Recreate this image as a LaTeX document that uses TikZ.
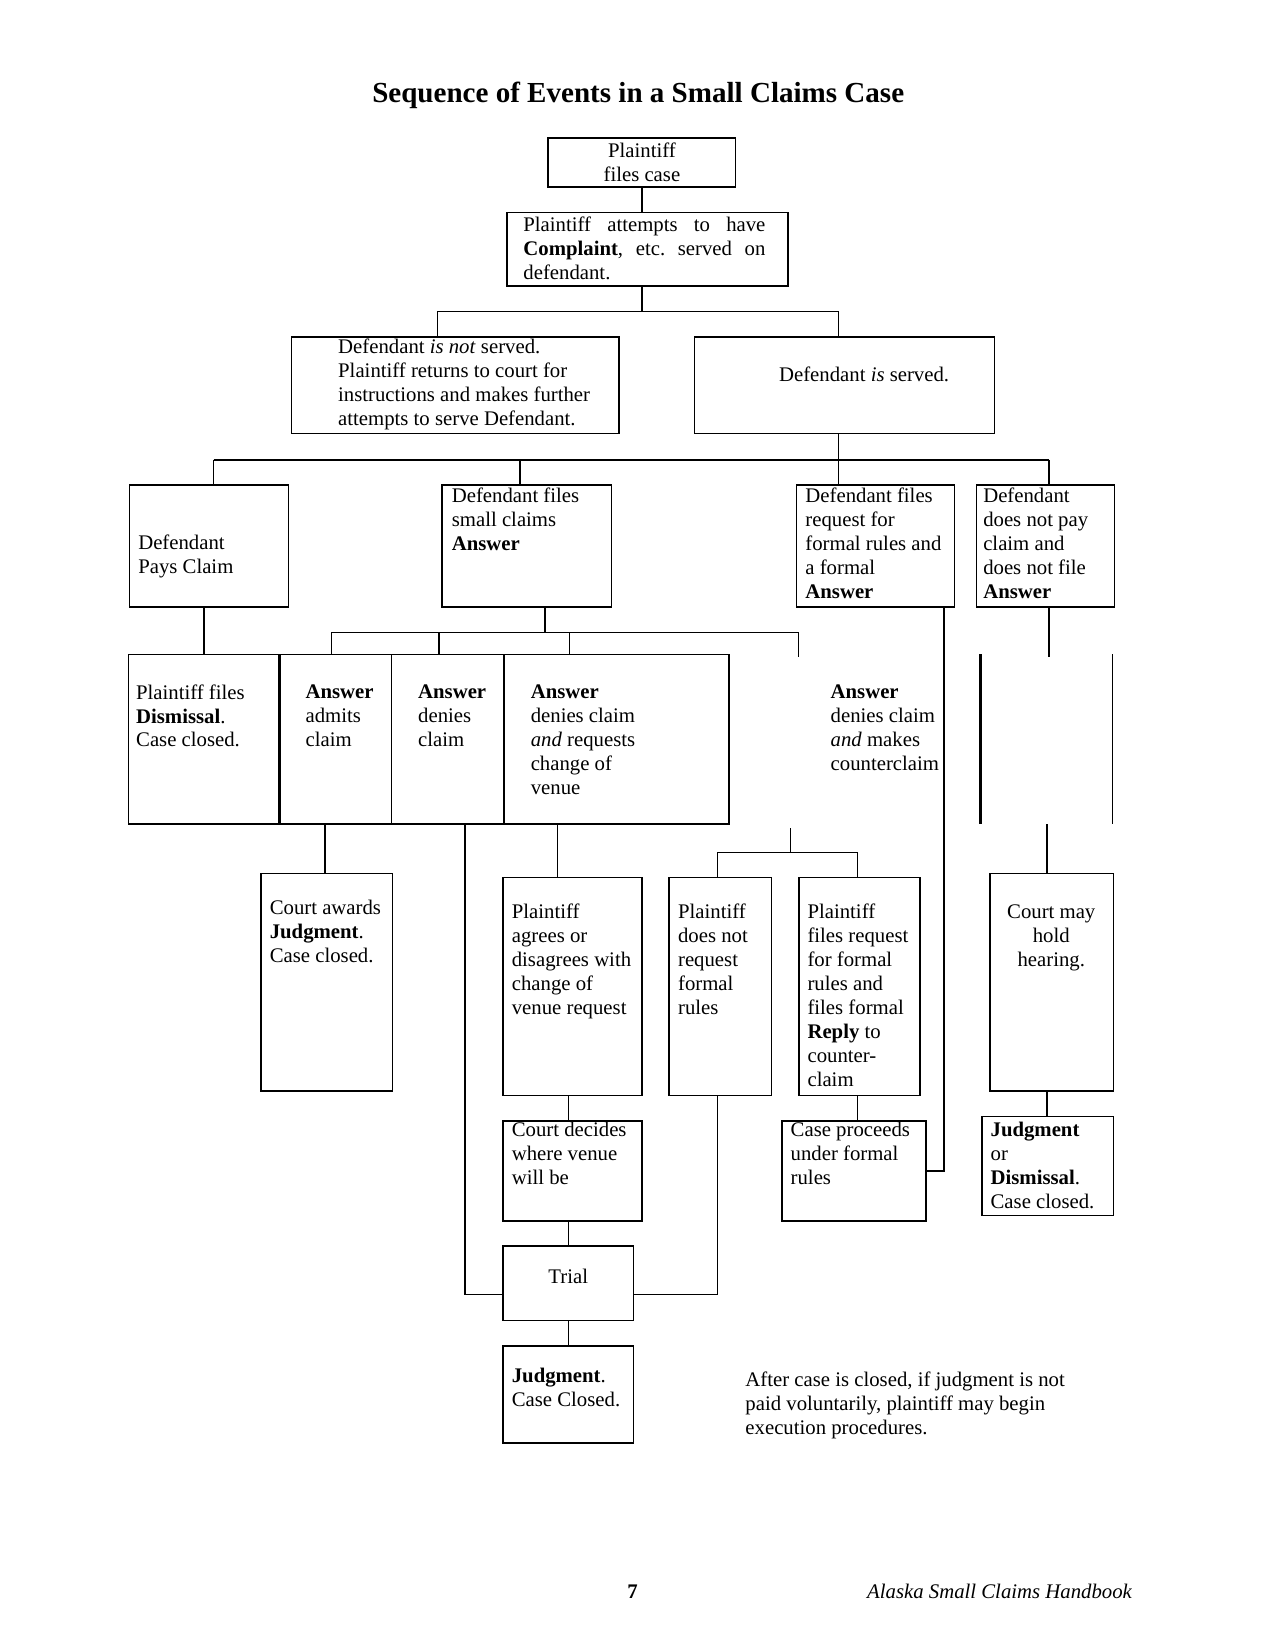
\documentclass[tikz,border=0pt]{standalone}
\usepackage{fontspec}
\setmainfont{Liberation Serif}
\usetikzlibrary{fit}
\frenchspacing
\newcommand\bodyfont{\fontsize{10}{11.55}\selectfont}
\newcommand\bxx[5]{\node[box, fit={(#2,#3) (#4,#5)}] (#1) {};}
\begin{document}
\begin{tikzpicture}[x=0.507pt,y=-0.507pt,
  box/.style={draw, line width=0.8pt, inner sep=0pt},
  hid/.style={inner sep=0pt},
  txt/.style={inner sep=0pt, align=left, anchor=north west, font=\bodyfont},
  ctxt/.style={inner sep=0pt, align=center, anchor=north, font=\bodyfont},
  conn/.style={line width=0.7pt}]
\useasboundingbox (0,0) rectangle (1212,1568);
% title
\node[inner sep=0pt, anchor=base, font=\fontsize{14}{16}\selectfont\bfseries] (title) at (606.5,97) {Sequence of Events in a Small Claims Case};
% boxes
\bxx{b1}{521}{131}{699}{178}
\bxx{b2}{482}{202}{749}{272}
\bxx{b3}{277}{320}{588}{412}
\bxx{b4}{660}{320}{945}{412}
\bxx{c1}{123}{461}{274}{577}
\bxx{c2}{420}{461}{581}{577}
\bxx{c3}{757}{461}{907}{577}
\bxx{c4}{928}{461}{1059}{577}
\bxx{d1}{122}{622}{265}{783}
\bxx{d2}{266}{622}{372}{783}
\bxx{d3}{372}{622}{479}{783}
\bxx{d4}{479}{622}{693}{783}
\node[hid, fit={(932,622) (1057,783)}] (h) {};
\draw[line width=1.3pt] (h.north west) -- (h.south west);
\draw[line width=0.7pt] (h.north east) -- (h.south east);
\bxx{e1}{248}{830}{373}{1037}
\bxx{e2}{478}{834}{610}{1041}
\bxx{e3}{636}{834}{733}{1041}
\bxx{e4}{759}{834}{874}{1041}
\bxx{e5}{941}{830}{1058}{1037}
\bxx{f1}{478}{1065}{610}{1160}
\bxx{f2}{743}{1065}{880}{1160}
\bxx{f3}{933}{1061}{1058}{1155}
\bxx{trial}{478}{1184}{602}{1255}
\bxx{g1}{478}{1279}{602}{1371}
% texts
\node[ctxt] (tb1) at (610,135) {Plaintiff\\files case};
\node[txt] (tb2) at (497,206) {\makebox[116.6pt][s]{Plaintiff attempts to have}\\\makebox[116.6pt][s]{\textbf{Complaint}, etc. served on}\\defendant.};
\node[txt] (tb3) at (321,322) {Defendant \textit{is not} served.\\Plaintiff returns to court for\\instructions and makes further\\attempts to serve Defendant.};
\node[txt] (tb4) at (740,348) {Defendant \textit{is} served.};
\node[txt] (tc1) at (131,508) {Defendant\\Pays Claim};
\node[txt] (tc2) at (429,463) {Defendant files\\small claims\\\textbf{Answer}};
\node[txt] (tc3) at (765,463) {Defendant files\\request for\\formal rules and\\a formal\\\textbf{Answer}};
\node[txt] (tc4) at (934,463) {Defendant\\does not pay\\claim and\\does not file\\\textbf{Answer}};
\node[txt] (td1) at (129,650) {Plaintiff files\\\textbf{Dismissal}.\\Case closed.};
\node[txt] (td2) at (290,650) {\textbf{Answer}\\admits\\claim};
\node[txt] (td3) at (397,650) {\textbf{Answer}\\denies\\claim};
\node[txt] (td4) at (504,650) {\textbf{Answer}\\denies claim\\\textit{and} requests\\change of\\venue};
\node[txt] (cc) at (789,650) {\textbf{Answer}\\denies claim\\\textit{and} makes\\counterclaim};
\node[txt] (te1) at (256,855) {Court awards\\\textbf{Judgment}.\\Case closed.};
\node[txt] (te2) at (486,859) {Plaintiff\\agrees or\\disagrees with\\change of\\venue request};
\node[txt] (te3) at (644,859) {Plaintiff\\does not\\request\\formal\\rules};
\node[txt] (te4) at (767,859) {Plaintiff\\files request\\for formal\\rules and\\files formal\\\textbf{Reply} to\\counter-\\claim};
\node[ctxt] (te5) at (999,859) {Court may\\hold\\hearing.};
\node[txt] (tf1) at (486,1066) {Court decides\\where venue\\will be};
\node[txt] (tf2) at (751,1066) {Case proceeds\\under formal\\rules};
\node[txt] (tf3) at (941,1066) {\textbf{Judgment}\\or\\\textbf{Dismissal}.\\Case closed.};
\node[inner sep=0pt, font=\bodyfont] (ttrial) at (540,1213) {Trial};
\node[txt] (tg1) at (486,1300) {\textbf{Judgment}.\\Case Closed.};
\node[txt] (note) at (708,1303) {After case is closed, if judgment is not\\paid voluntarily, plaintiff may begin\\execution procedures.};
% footer
\node[inner sep=0pt, anchor=base, font=\bodyfont\bfseries] (pg) at (601,1519) {7};
\node[inner sep=0pt, anchor=base east, font=\bodyfont\itshape] (hb) at (1076,1519) {Alaska Small Claims Handbook};
% connectors
\coordinate (j1) at (610,296);
\coordinate (j1l) at (416,296);
\coordinate (j1r) at (797,296);
\draw[conn] (b1.south) -- (b1.south |- b2.north);
\draw[conn] (b2.south -| j1) -- (j1);
\draw[conn] (j1l) -- (j1r);
\draw[conn] (j1l) -- (j1l |- b3.north);
\draw[conn] (j1r) -- (j1r |- b4.north);
\coordinate (j2) at (797,437);
\coordinate (j2l) at (203,437);
\coordinate (j2r) at (997,437);
\draw[conn] (b4.south -| j2) -- (j2);
\draw[conn] (j2l) -- (j2r);
\draw[conn] (j2l) -- (j2l |- c1.north);
\draw[conn] (494,437) -- (494,437 |- c2.north);
\draw[conn] (j2) -- (j2 |- c3.north);
\draw[conn] (j2r) -- (j2r |- c4.north);
% row 4
\draw[conn] (194,0 |- c1.south) -- (194,0 |- d1.north);
\coordinate (j3) at (518,601);
\coordinate (j3l) at (315,601);
\coordinate (j3r) at (759,601);
\coordinate (ccend) at (759,624);
\draw[conn] (c2.south -| j3) -- (j3);
\draw[conn] (j3l) -- (j3r);
\draw[conn] (j3l) -- (j3l |- d2.north);
\draw[conn] (417,601) -- (417,0 |- d3.north);
\draw[conn] (541,601) -- (541,0 |- d4.north);
\draw[conn] (j3r) -- (ccend);
\coordinate (k3) at (897,1113);
\draw[conn] (c3.south -| k3) -- (k3) -- (k3 -| f2.east);
\coordinate (c4end) at (997,624);
\draw[conn] (c4.south -| c4end) -- (c4end);
% row 5
\draw[conn] (309,0 |- d2.south) -- (309,0 |- e1.north);
\coordinate (k1) at (442,1230);
\draw[conn] (k1 |- d3.south) -- (k1) -- (k1 -| trial.west);
\draw[conn] (530,0 |- d4.south) -- (530,0 |- e2.north);
\coordinate (m0) at (751,787);
\coordinate (m1) at (751,810);
\coordinate (m1l) at (682,810);
\coordinate (m1r) at (815,810);
\draw[conn] (m0) -- (m1);
\draw[conn] (m1l) -- (m1r);
\draw[conn] (m1l) -- (m1l |- e3.north);
\draw[conn] (m1r) -- (m1r |- e4.north);
\draw[conn] (995,0 |- h.south) -- (995,0 |- e5.north);
% row 6
\draw[conn] (540,0 |- e2.south) -- (540,0 |- f1.north);
\draw[conn] (815,0 |- e4.south) -- (815,0 |- f2.north);
\draw[conn] (995,0 |- e5.south) -- (995,0 |- f3.north);
% row 7
\draw[conn] (540,0 |- f1.south) -- (540,0 |- trial.north);
\coordinate (k2) at (682,1230);
\draw[conn] (k2 |- e3.south) -- (k2) -- (k2 -| trial.east);
\draw[conn] (540,0 |- trial.south) -- (540,0 |- g1.north);
\end{tikzpicture}
\end{document}
